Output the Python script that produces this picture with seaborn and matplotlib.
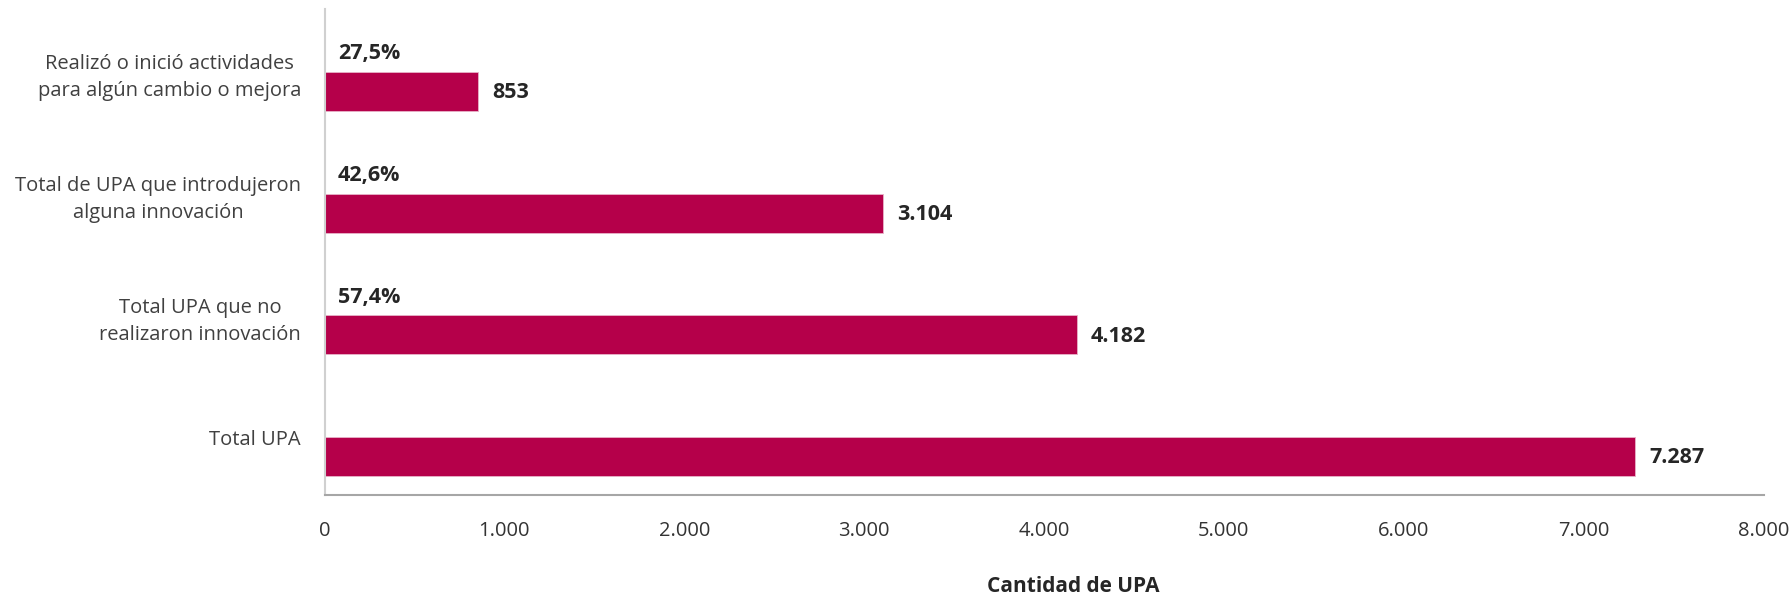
import matplotlib
matplotlib.use("Agg")
import matplotlib.pyplot as plt
import seaborn as sns

categories = [
    "Realizó o inició actividades\npara algún cambio o mejora",
    "Total de UPA que introdujeron\nalguna innovación",
    "Total UPA que no\nrealizaron innovación",
    "Total UPA",
]
values = [853, 3104, 4182, 7287]
percents = ["27,5%", "42,6%", "57,4%", None]
xticks = [0, 1000, 2000, 3000, 4000, 5000, 6000, 7000, 8000]

sns.set_style("white")
plt.rcParams["font.family"] = ["Open Sans", "DejaVu Sans"]

def fmt(v):
    return f"{v:,}".replace(",", ".")

fig = plt.figure(figsize=(17.92, 5.99), dpi=100)
ax = fig.add_axes([0.1811, 0.1738, 0.8030, 0.8112])

sns.barplot(x=values, y=categories, orient="h", color="#b5004a",
            width=0.32, saturation=1, edgecolor="#e8b3c8", linewidth=0.6, ax=ax)

ax.set_xlim(0, 8000)
ax.set_ylim(3.315, -0.676)
ax.set_xticks(xticks)
ax.set_xticklabels([fmt(t) for t in xticks], fontsize=14.5, color="#333333")
ax.tick_params(axis="x", direction="in", length=5, width=1.2, color="#a6a6a6", pad=19)

ax.set_yticks([i - 0.16 for i in range(len(categories))])
ax.set_yticklabels(categories, fontsize=14.5, color="#404040",
                   multialignment="center", linespacing=1.45)
ax.tick_params(axis="y", length=0, pad=17)
ax.set_ylabel("")

for side in ["top", "right"]:
    ax.spines[side].set_visible(False)
ax.spines["left"].set_color("#d0d0d0")
ax.spines["left"].set_linewidth(1.5)
ax.spines["bottom"].set_color("#a6a6a6")
ax.spines["bottom"].set_linewidth(1.5)

for i, v in enumerate(values):
    ax.annotate(fmt(v), (v, i), xytext=(10, -1), textcoords="offset points",
                ha="left", va="center", fontsize=15.5, fontweight="bold", color="#262626")
    if percents[i]:
        ax.annotate(percents[i], (0, i - 0.31), xytext=(9.5, 0), textcoords="offset points",
                    ha="left", va="center", fontsize=15.5, fontweight="bold", color="#262626")

ax.set_xlabel("Cantidad de UPA", fontsize=15, fontweight="bold", color="#262626")
ax.xaxis.set_label_coords(0.52, -0.1875)
ax.xaxis.label.set_verticalalignment("center")

fig.savefig("out.png", dpi=100)
